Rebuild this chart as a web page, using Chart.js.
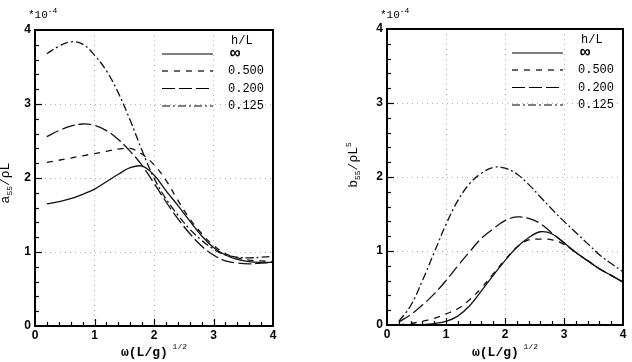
<!DOCTYPE html>
<html lang="en">
<head>
<meta charset="UTF-8">
<title>a55 / b55 vs omega</title>
<script src="https://cdn.jsdelivr.net/npm/chart.js"></script>
<style>
  body { margin: 0; background: #fff; }
  #wrap { position: relative; width: 632px; height: 362px; }
  canvas { position: absolute; top: 0; }
</style>
</head>
<body>
<div id="wrap">
  <canvas id="aChart" width="316" height="362" style="left:0px"></canvas>
  <canvas id="bChart" width="316" height="362" style="left:316px"></canvas>
</div>
<script>
// frequency omega(L/g)^1/2
const omega = [0.2, 0.4, 0.6, 0.8, 1.0, 1.2, 1.4, 1.6, 1.8, 2.0,
               2.2, 2.4, 2.6, 2.8, 3.0, 3.2, 3.4, 3.6, 3.8, 4.0];
const depthLabels = ["\u221e", "0.500", "0.200", "0.125"];
const axisTicks = [0, 1, 2, 3, 4];

// a55/rhoL  (*10^-4)
const a55Inf = [1.65, 1.68, 1.72, 1.78, 1.85, 1.95, 2.05, 2.14, 2.16, 2.04,
                1.83, 1.63, 1.42, 1.22, 1.06, 0.96, 0.90, 0.87, 0.86, 0.86];
const a55H500 = [2.21, 2.24, 2.27, 2.30, 2.33, 2.36, 2.39, 2.40, 2.32, 2.18,
                 1.97, 1.70, 1.45, 1.25, 1.09, 0.98, 0.92, 0.89, 0.88, 0.87];
const a55H200 = [2.56, 2.64, 2.70, 2.73, 2.71, 2.64, 2.52, 2.36, 2.17, 1.93,
                 1.68, 1.45, 1.25, 1.08, 0.96, 0.88, 0.85, 0.84, 0.85, 0.86];
const a55H125 = [3.68, 3.78, 3.84, 3.81, 3.66, 3.45, 3.15, 2.78, 2.37, 2.00,
                 1.72, 1.50, 1.31, 1.16, 1.04, 0.96, 0.93, 0.92, 0.93, 0.94];

// b55/rhoL^5  (*10^-4)
const b55Inf = [0.00, 0.00, 0.005, 0.02, 0.05, 0.12, 0.26, 0.46, 0.67, 0.87,
                1.05, 1.18, 1.26, 1.23, 1.11, 0.98, 0.87, 0.76, 0.67, 0.58];
const b55H500 = [0.00, 0.02, 0.05, 0.09, 0.15, 0.22, 0.34, 0.50, 0.69, 0.88,
                 1.05, 1.15, 1.16, 1.15, 1.09, 0.98, 0.87, 0.76, 0.67, 0.58];
const b55H200 = [0.04, 0.14, 0.27, 0.42, 0.60, 0.80, 0.99, 1.17, 1.30, 1.41,
                 1.46, 1.44, 1.37, 1.24, 1.11, 0.98, 0.87, 0.76, 0.67, 0.58];
const b55H125 = [0.05, 0.26, 0.60, 0.98, 1.36, 1.68, 1.91, 2.05, 2.13, 2.12,
                 2.04, 1.90, 1.73, 1.56, 1.40, 1.25, 1.10, 0.95, 0.83, 0.72];

const dashes = [[], [6, 6], [13, 4], [8, 3, 2, 3]];
const MONO = '"Liberation Mono", "DejaVu Sans Mono", monospace';

function makeSets(series) {
  return series.map((arr, i) => ({
    label: depthLabels[i],
    data: omega.map((x, j) => ({ x: x, y: arr[j] })),
    borderColor: "#111",
    borderWidth: 1.3,
    borderDash: dashes[i],
    pointRadius: 0,
    tension: 0.4,
    fill: false
  }));
}

// draw text made of pieces (sub/superscripts), centred on x
function richText(ctx, parts, x, y, align) {
  let total = 0;
  parts.forEach(p => {
    ctx.font = p.font;
    p.w = ctx.measureText(p.t).width;
    total += p.w;
  });
  let cx = align === "left" ? x : x - total / 2;
  parts.forEach(p => {
    ctx.font = p.font;
    ctx.fillText(p.t, cx, y + (p.dy || 0));
    cx += p.w;
  });
}

const decor = {
  id: "decor",
  afterDraw(chart, args, opts) {
    const ctx = chart.ctx;
    const a = chart.chartArea;
    const xs = chart.scales.x, ys = chart.scales.y;
    ctx.save();
    ctx.strokeStyle = "#000";
    ctx.fillStyle = "#000";

    // inward ticks, minor every 0.2
    ctx.lineWidth = 1.2;
    for (let k = 1; k < 20; k++) {
      const v = k * 0.2;
      const major = k % 5 === 0;
      const len = major ? 7 : 4;
      const px = Math.round(xs.getPixelForValue(v)) + 0.5;
      ctx.beginPath();
      ctx.moveTo(px, a.bottom);
      ctx.lineTo(px, a.bottom - len);
      ctx.stroke();
      const py = Math.round(ys.getPixelForValue(v)) + 0.5;
      ctx.beginPath();
      ctx.moveTo(a.left, py);
      ctx.lineTo(a.left + len, py);
      ctx.stroke();
    }

    // frame
    ctx.lineWidth = 2;
    ctx.strokeRect(a.left, a.top, a.right - a.left, a.bottom - a.top);

    // legend
    const lx0 = a.right - 111, lx1 = a.right - 60, tx = a.right - 45;
    ctx.textBaseline = "middle";
    ctx.font = "12px " + MONO;
    ctx.fillText("h/L", tx + 3, a.top + 11);
    const rows = [24, 41, 58.5, 76];
    chart.data.datasets.forEach((ds, i) => {
      const y = a.top + rows[i];
      ctx.lineWidth = 1.2;
      ctx.setLineDash(ds.borderDash);
      ctx.beginPath();
      ctx.moveTo(lx0, y);
      ctx.lineTo(lx1, y);
      ctx.stroke();
      ctx.setLineDash([]);
      if (i === 0) {
        ctx.font = "bold 17px " + MONO;
        ctx.fillText(ds.label, tx + 2, y);
      } else {
        ctx.font = "12px " + MONO;
        ctx.fillText(ds.label, tx, y);
      }
    });

    // scale factor
    ctx.textBaseline = "alphabetic";
    richText(ctx, [
      { t: "*10", font: "11px " + MONO },
      { t: "-4", font: "8px " + MONO, dy: -5 }
    ], a.left - 7, 18, "left");

    // x title
    const cx = (a.left + a.right) / 2;
    richText(ctx, [
      { t: "\u03c9(L/g)", font: "bold 13px " + MONO },
      { t: " 1/2", font: "8px " + MONO, dy: -7 }
    ], cx, 356);

    // y title
    ctx.translate(opts.yTitleX, (a.top + a.bottom) / 2 + opts.yTitleShift);
    ctx.rotate(-Math.PI / 2);
    richText(ctx, opts.yTitle, 0, 0);
    ctx.restore();
  }
};

function makeOptions(area, yTitle, yTitleX, yTitleShift, canvasW) {
  const gridColor = c => (c.tick && c.tick.value > 0 && c.tick.value < 4) ? "#b0b0b0" : "rgba(0,0,0,0)";
  return {
    responsive: false,
    animation: false,
    layout: { padding: { top: area.top, right: canvasW - area.right, left: 0, bottom: 0 } },
    plugins: {
      legend: { display: false },
      tooltip: { enabled: false },
      decor: { yTitle: yTitle, yTitleX: yTitleX, yTitleShift: yTitleShift }
    },
    scales: {
      x: {
        type: "linear", min: 0, max: 4,
        afterBuildTicks: s => { s.ticks = axisTicks.map(v => ({ value: v })); },
        afterFit: s => {
          s.height = 362 - area.bottom;
          s.paddingLeft = 0; s.paddingRight = 0;
        },
        ticks: { padding: 2, color: "#000", font: { family: "Liberation Sans", size: 12, weight: "bold" } },
        grid: { drawTicks: false, color: gridColor, lineWidth: 1 },
        border: { display: false, dash: [1, 4] }
      },
      y: {
        type: "linear", min: 0, max: 4,
        afterBuildTicks: s => { s.ticks = axisTicks.map(v => ({ value: v })); },
        afterFit: s => {
          s.width = area.left;
          s.paddingTop = 0; s.paddingBottom = 0;
        },
        ticks: { padding: 4, color: "#000", font: { family: "Liberation Sans", size: 12, weight: "bold" } },
        grid: { drawTicks: false, color: gridColor, lineWidth: 1 },
        border: { display: false, dash: [1, 4] }
      }
    }
  };
}

new Chart(document.getElementById("aChart").getContext("2d"), {
  type: "line",
  data: { datasets: makeSets([a55Inf, a55H500, a55H200, a55H125]) },
  options: makeOptions({ left: 35, right: 273, top: 30, bottom: 326 }, [
    { t: "a", font: "13px " + MONO },
    { t: "55", font: "8px " + MONO, dy: 3 },
    { t: "/\u03c1L", font: "13px " + MONO }
  ], 9, 5, 316),
  plugins: [decor]
});

new Chart(document.getElementById("bChart").getContext("2d"), {
  type: "line",
  data: { datasets: makeSets([b55Inf, b55H500, b55H200, b55H125]) },
  options: makeOptions({ left: 71, right: 307, top: 29, bottom: 325 }, [
    { t: "b", font: "13px " + MONO },
    { t: "55", font: "8px " + MONO, dy: 3 },
    { t: "/\u03c1L", font: "13px " + MONO },
    { t: "5", font: "8px " + MONO, dy: -6 }
  ], 41, -12, 316),
  plugins: [decor]
});
</script>
</body>
</html>
